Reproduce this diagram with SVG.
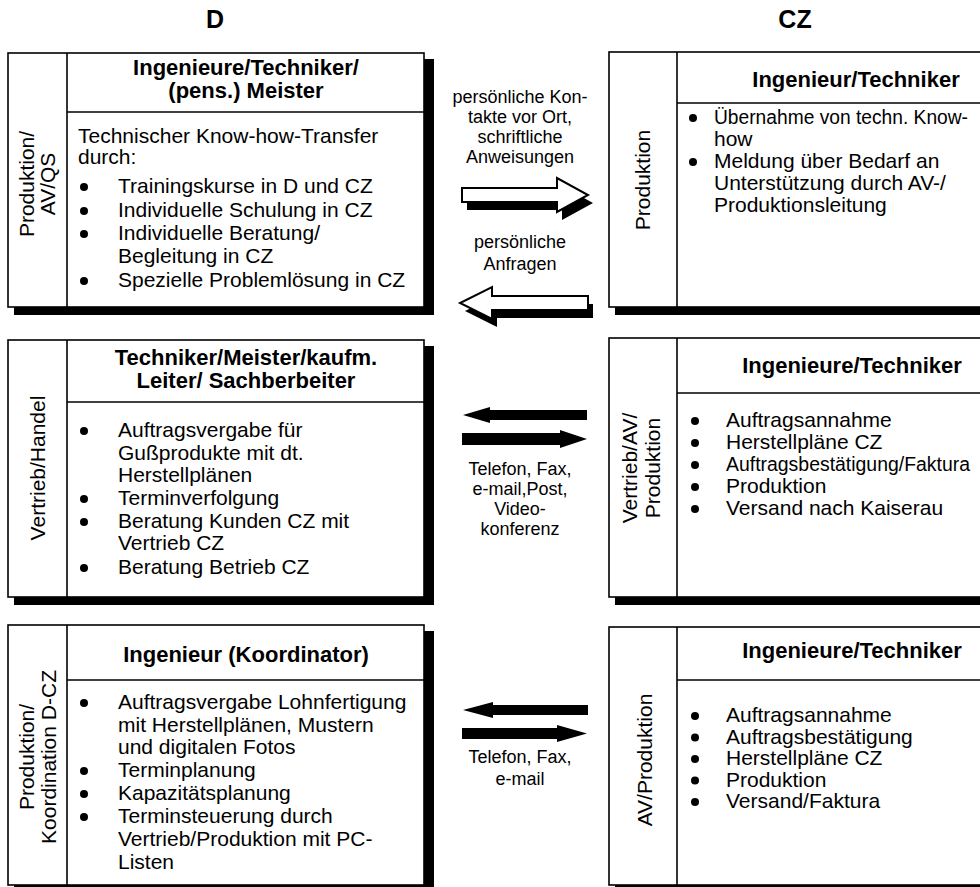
<svg xmlns="http://www.w3.org/2000/svg" width="980" height="887" viewBox="0 0 980 887">
<style>
.box{fill:#fff;stroke:#000;stroke-width:1.6}
.sh{fill:#000}
.ln{stroke:#000;stroke-width:1.6;fill:none}
text{font-family:"Liberation Sans",Arial,sans-serif;fill:#000}
.ttl{font-size:25px;font-weight:bold;text-anchor:middle}
.hd{font-size:22px;font-weight:bold;text-anchor:middle}
.tx{font-size:21px}
.lb{font-size:21px;text-anchor:middle}
.cl{font-size:18px;text-anchor:middle}
.bu{fill:#000}
.ha{fill:#fff;stroke:#000;stroke-width:2}
.so{fill:#000}
</style>
<rect width="980" height="887" fill="#fff"/>
<text class="ttl" x="215" y="28">D</text>
<text class="ttl" x="795" y="28">CZ</text>

<g id="d-produktion">
<rect class="sh" x="14" y="59" width="420" height="256"/>
<rect class="box" x="8" y="53" width="416" height="254"/>
<line class="ln" x1="67" y1="53" x2="67" y2="307"/>
<line class="ln" x1="67" y1="112" x2="424" y2="112"/>
<text class="lb" transform="translate(34,184) rotate(-90)">Produktion/</text>
<text class="lb" transform="translate(55,184) rotate(-90)">AV/QS</text>
<text class="hd" x="246" y="75">Ingenieure/Techniker/</text>
<text class="hd" x="246" y="98">(pens.) Meister</text>
<text class="tx" x="78" y="143">Technischer Know-how-Transfer</text>
<text class="tx" x="78" y="164">durch:</text>
<circle class="bu" cx="84" cy="187" r="4"/>
<text class="tx" x="118" y="193">Trainingskurse in D und CZ</text>
<circle class="bu" cx="84" cy="211" r="4"/>
<text class="tx" x="118" y="217">Individuelle Schulung in CZ</text>
<circle class="bu" cx="84" cy="234" r="4"/>
<text class="tx" x="118" y="240">Individuelle Beratung/</text>
<text class="tx" x="118" y="263">Begleitung in CZ</text>
<circle class="bu" cx="84" cy="281" r="4"/>
<text class="tx" x="118" y="287">Spezielle Problemlösung in CZ</text>
</g>

<g id="cz-produktion">
<rect class="sh" x="615" y="58" width="430" height="257"/>
<rect class="box" x="609" y="52" width="430" height="255"/>
<line class="ln" x1="677" y1="52" x2="677" y2="307"/>
<line class="ln" x1="677" y1="103" x2="1039" y2="103"/>
<text class="lb" transform="translate(650,180) rotate(-90)">Produktion</text>
<text class="hd" x="856" y="87">Ingenieur/Techniker</text>
<circle class="bu" cx="693" cy="118" r="4"/>
<text class="tx" x="714" y="124" style="font-size:19.5px" textLength="254" lengthAdjust="spacingAndGlyphs">Übernahme von techn. Know-</text>
<text class="tx" x="714" y="146">how</text>
<circle class="bu" cx="693" cy="162" r="4"/>
<text class="tx" x="714" y="168">Meldung über Bedarf an</text>
<text class="tx" x="714" y="190">Unterstützung durch AV-/</text>
<text class="tx" x="714" y="212">Produktionsleitung</text>
</g>

<g id="d-vertrieb">
<rect class="sh" x="14" y="346" width="420" height="259"/>
<rect class="box" x="8" y="340" width="416" height="257"/>
<line class="ln" x1="67" y1="340" x2="67" y2="597"/>
<line class="ln" x1="67" y1="402" x2="424" y2="402"/>
<text class="lb" transform="translate(45,468) rotate(-90)">Vertrieb/Handel</text>
<text class="hd" x="246" y="365">Techniker/Meister/kaufm.</text>
<text class="hd" x="246" y="388">Leiter/ Sachberbeiter</text>
<circle class="bu" cx="84" cy="431" r="4"/>
<text class="tx" x="118" y="437">Auftragsvergabe für</text>
<text class="tx" x="118" y="460">Gußprodukte mit dt.</text>
<text class="tx" x="118" y="482">Herstellplänen</text>
<circle class="bu" cx="84" cy="499" r="4"/>
<text class="tx" x="118" y="505">Terminverfolgung</text>
<circle class="bu" cx="84" cy="522" r="4"/>
<text class="tx" x="118" y="528">Beratung Kunden CZ mit</text>
<text class="tx" x="118" y="550">Vertrieb CZ</text>
<circle class="bu" cx="84" cy="568" r="4"/>
<text class="tx" x="118" y="574">Beratung Betrieb CZ</text>
</g>

<g id="cz-vertrieb">
<rect class="sh" x="615" y="344" width="430" height="261"/>
<rect class="box" x="609" y="338" width="430" height="259"/>
<line class="ln" x1="677" y1="338" x2="677" y2="597"/>
<line class="ln" x1="677" y1="393" x2="1039" y2="393"/>
<text class="lb" transform="translate(637,468) rotate(-90)">Vertrieb/AV/</text>
<text class="lb" transform="translate(660,468) rotate(-90)">Produktion</text>
<text class="hd" x="852" y="373">Ingenieure/Techniker</text>
<circle class="bu" cx="695" cy="421" r="4"/>
<text class="tx" x="726" y="427">Auftragsannahme</text>
<circle class="bu" cx="695" cy="443" r="4"/>
<text class="tx" x="726" y="449">Herstellpläne CZ</text>
<circle class="bu" cx="695" cy="465" r="4"/>
<text class="tx" x="726" y="471" style="font-size:19.5px" textLength="244" lengthAdjust="spacingAndGlyphs">Auftragsbestätigung/Faktura</text>
<circle class="bu" cx="695" cy="487" r="4"/>
<text class="tx" x="726" y="493">Produktion</text>
<circle class="bu" cx="695" cy="509" r="4"/>
<text class="tx" x="726" y="515">Versand nach Kaiserau</text>
</g>

<g id="d-koordination">
<rect class="sh" x="14" y="631" width="420" height="262"/>
<rect class="box" x="8" y="625" width="416" height="260"/>
<line class="ln" x1="67" y1="625" x2="67" y2="885"/>
<line class="ln" x1="67" y1="680" x2="424" y2="680"/>
<text class="lb" transform="translate(34,757) rotate(-90)">Produktion/</text>
<text class="lb" transform="translate(56,757) rotate(-90)">Koordination D-CZ</text>
<text class="hd" x="246" y="662">Ingenieur (Koordinator)</text>
<circle class="bu" cx="84" cy="703" r="4"/>
<text class="tx" x="118" y="709">Auftragsvergabe Lohnfertigung</text>
<text class="tx" x="118" y="732">mit Herstellplänen, Mustern</text>
<text class="tx" x="118" y="754">und digitalen Fotos</text>
<circle class="bu" cx="84" cy="771" r="4"/>
<text class="tx" x="118" y="777">Terminplanung</text>
<circle class="bu" cx="84" cy="794" r="4"/>
<text class="tx" x="118" y="800">Kapazitätsplanung</text>
<circle class="bu" cx="84" cy="817" r="4"/>
<text class="tx" x="118" y="823">Terminsteuerung durch</text>
<text class="tx" x="118" y="846">Vertrieb/Produktion mit PC-</text>
<text class="tx" x="118" y="869">Listen</text>
</g>

<g id="cz-av">
<rect class="sh" x="615" y="633" width="430" height="260"/>
<rect class="box" x="609" y="627" width="430" height="258"/>
<line class="ln" x1="677" y1="627" x2="677" y2="885"/>
<line class="ln" x1="677" y1="680" x2="1039" y2="680"/>
<text class="lb" transform="translate(652,760) rotate(-90)">AV/Produktion</text>
<text class="hd" x="852" y="658">Ingenieure/Techniker</text>
<circle class="bu" cx="695" cy="716" r="4"/>
<text class="tx" x="726" y="722">Auftragsannahme</text>
<circle class="bu" cx="695" cy="737.5" r="4"/>
<text class="tx" x="726" y="743.5">Auftragsbestätigung</text>
<circle class="bu" cx="695" cy="759" r="4"/>
<text class="tx" x="726" y="765">Herstellpläne CZ</text>
<circle class="bu" cx="695" cy="780.5" r="4"/>
<text class="tx" x="726" y="786.5">Produktion</text>
<circle class="bu" cx="695" cy="802" r="4"/>
<text class="tx" x="726" y="808">Versand/Faktura</text>
</g>

<g id="connectors">
<text class="cl" x="520" y="103">persönliche Kon-</text>
<text class="cl" x="520" y="123">takte vor Ort,</text>
<text class="cl" x="520" y="143">schriftliche</text>
<text class="cl" x="520" y="163">Anweisungen</text>
<polygon class="so" transform="translate(5,8)" points="462,188 557,188 557,178 588,195 557,212 557,202 462,202"/>
<polygon class="ha" points="462,188 557,188 557,178 588,195 557,212 557,202 462,202"/>
<text class="cl" x="520" y="248">persönliche</text>
<text class="cl" x="520" y="270">Anfragen</text>
<polygon class="so" transform="translate(5,8)" points="588,296 492,296 492,287 460,303 492,319 492,310 588,310"/>
<polygon class="ha" points="588,296 492,296 492,287 460,303 492,319 492,310 588,310"/>

<polygon class="so" points="463,415 490,407 490,410 587,410 587,420 490,420 490,423"/>
<polygon class="so" points="462,433 560,433 560,430 587,439 560,448 560,445 462,445"/>
<text class="cl" x="520" y="475">Telefon, Fax,</text>
<text class="cl" x="520" y="495">e-mail,Post,</text>
<text class="cl" x="520" y="515">Video-</text>
<text class="cl" x="520" y="535">konferenz</text>

<polygon class="so" points="463,710 493,702 493,705 588,705 588,715 493,715 493,718"/>
<polygon class="so" points="462,728 557,728 557,725 587,733.5 557,742 557,739 462,739"/>
<text class="cl" x="520" y="763">Telefon, Fax,</text>
<text class="cl" x="520" y="785">e-mail</text>
</g>
</svg>
